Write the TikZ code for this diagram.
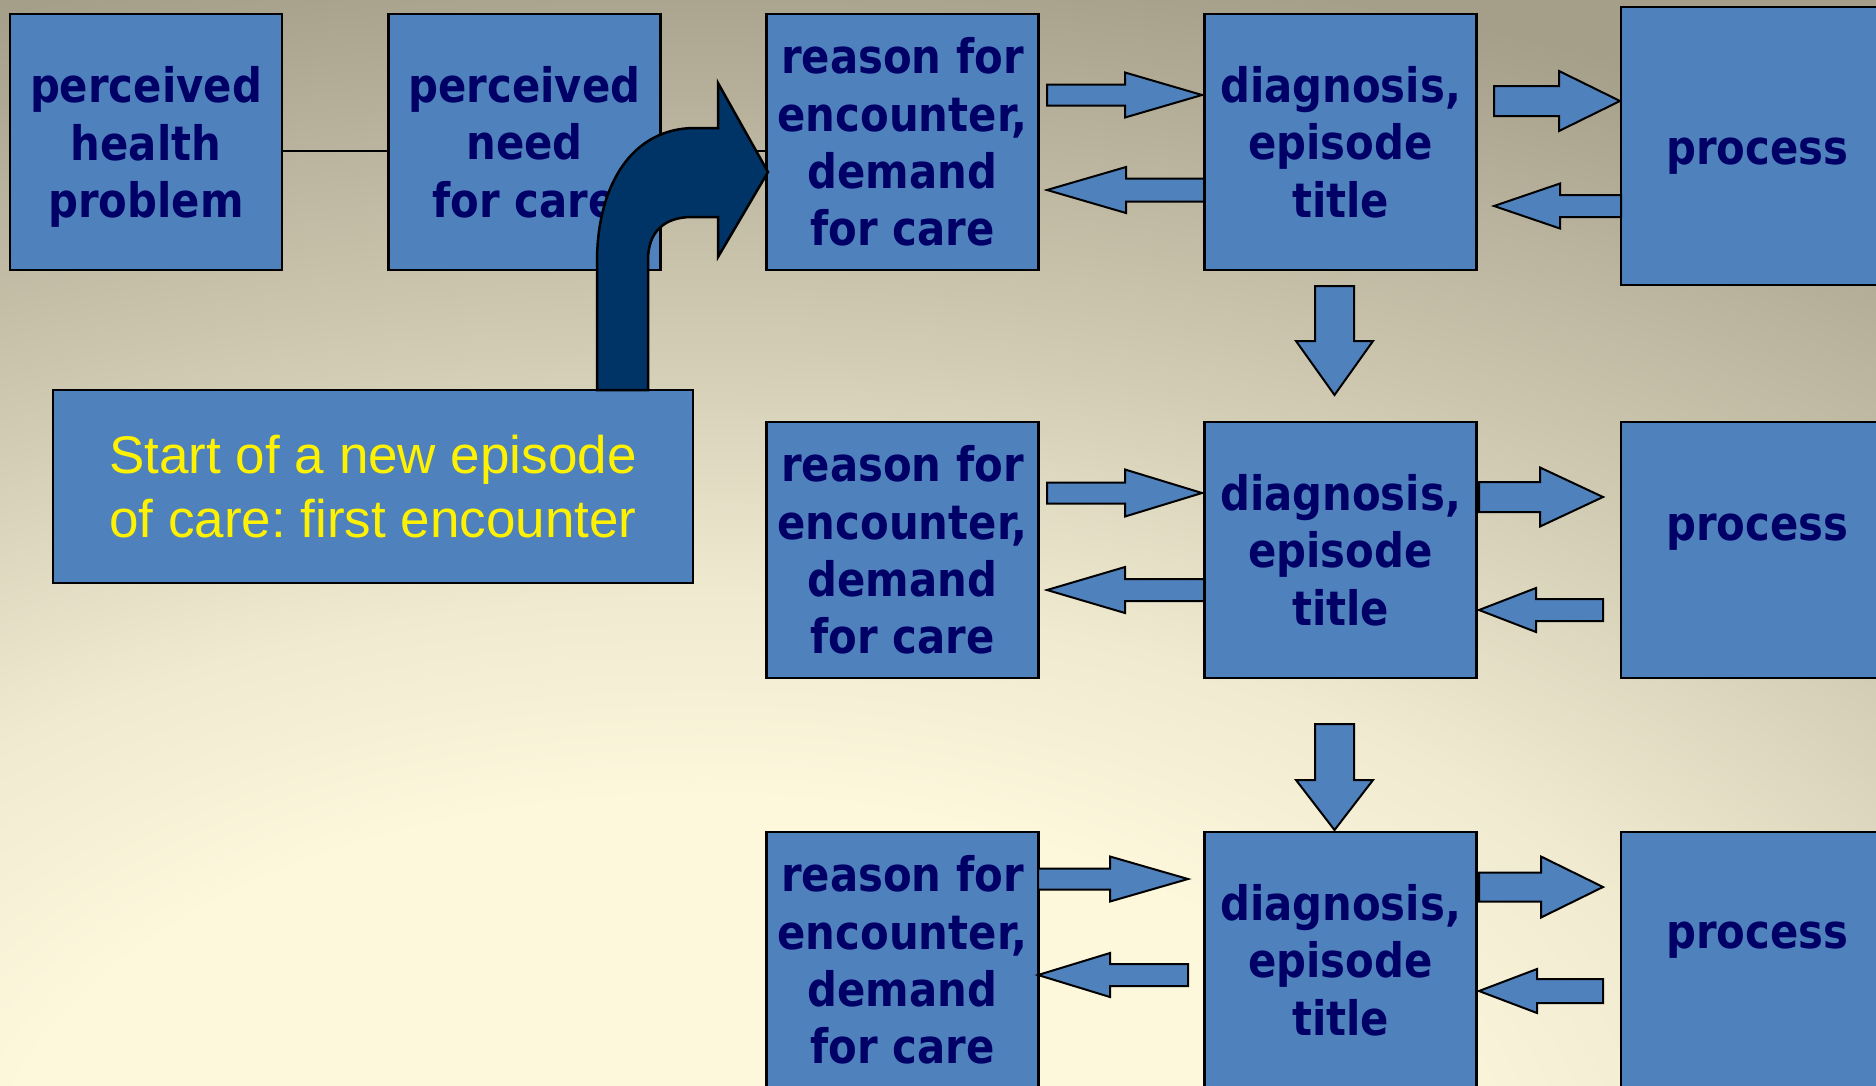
\documentclass[tikz,border=0pt]{standalone}
\usepackage{fontspec}
\usetikzlibrary{calc}
\newfontfamily\boxfont[FakeStretch=0.88]{DejaVu Sans}
\newfontfamily\startfont{Liberation Sans}
\frenchspacing
\definecolor{boxblue}{HTML}{4F81BD}
\definecolor{navytext}{HTML}{000066}
\definecolor{bentnavy}{HTML}{003366}
\definecolor{bgcream}{HTML}{FDF7DC}
\definecolor{bglight}{HTML}{EFEAD0}
\definecolor{bgmid}{HTML}{D2CCB4}
\definecolor{bgtan}{HTML}{BCB6A0}
\definecolor{bgdark}{HTML}{A59E89}
\pgfdeclareradialshading{bgglow}{\pgfpoint{0bp}{0bp}}{color(0bp)=(bgcream); color(16bp)=(bgcream); color(24bp)=(bglight); color(34bp)=(bgmid); color(42bp)=(bgtan); color(50bp)=(bgdark)}
\tikzset{
  box/.style={draw=black, line width=2.5pt, fill=boxblue, text=navytext, align=center,
    font=\boxfont\bfseries\fontsize{47.5}{57.4}\selectfont,
    minimum width=272pt, minimum height=256pt, inner sep=0pt},
  startbox/.style={draw=black, line width=2.5pt, fill=boxblue, text=yellow, align=center,
    font=\startfont\fontsize{53}{64}\selectfont,
    minimum width=640pt, minimum height=193pt, inner sep=0pt},
  fatarrow/.style n args={3}{draw=black, line width=2pt, fill=boxblue,
    to path={($(\tikztostart)!#1!90:(\tikztotarget)$)
      -- ($(\tikztotarget)!#3!(\tikztostart)!#1!-90:(\tikztostart)$)
      -- ($(\tikztotarget)!#3!(\tikztostart)!#2!-90:(\tikztostart)$)
      -- (\tikztotarget)
      -- ($(\tikztotarget)!#3!(\tikztostart)!#2!90:(\tikztostart)$)
      -- ($(\tikztotarget)!#3!(\tikztostart)!#1!90:(\tikztostart)$)
      -- ($(\tikztostart)!#1!-90:(\tikztotarget)$) -- cycle}},
}

\begin{document}
\begin{tikzpicture}[x=1pt,y=-1pt]
  \useasboundingbox (0,0) rectangle (1876,1085);
  \fill[bgdark] (0,0) rectangle (1876,1085);
  \begin{scope}
    \clip (0,0) rectangle (1876,1085);
    \begin{scope}[shift={(700,1200)},xscale=44,yscale=25]
      \pgflowlevelsynccm
      \pgfuseshading{bgglow}
    \end{scope}
  \end{scope}

  % first row
  \node[box,text depth=0pt] (hp) at (146,142) {perceived\\health\\problem};
  \node[box] (nd) at (524.5,142) {perceived\\need\\for care};
  \node[box] (rf1) at (902.5,142) {reason for\\encounter,\\demand\\for care};
  \node[box] (dg1) at (1340.5,142) {diagnosis,\\episode\\title};
  \node[box,minimum width=273pt,minimum height=278pt,text height=36pt,text depth=0pt] (pr1) at (1757.5,146) {process};
  % second row
  \node[box] (rf2) at (902.5,550) {reason for\\encounter,\\demand\\for care};
  \node[box] (dg2) at (1340.5,550) {diagnosis,\\episode\\title};
  \node[box,minimum width=273pt,text depth=46pt] (pr2) at (1757.5,550) {process};
  % third row
  \node[box] (rf3) at (902.5,960) {reason for\\encounter,\\demand\\for care};
  \node[box] (dg3) at (1340.5,960) {diagnosis,\\episode\\title};
  \node[box,minimum width=273pt,text depth=49pt] (pr3) at (1757.5,960) {process};

  \node[startbox] (st) at (373,486.5) {Start of a new episode\\of care: first encounter};

  \draw[line width=2pt] ([yshift=-9pt]hp.east) -- ([yshift=-9pt]nd.west);
  \draw[line width=2pt] ([yshift=-9pt]nd.east) -- ([yshift=-9pt]rf1.west);

  \draw[fill=bentnavy,line width=2.5pt] (597,390) -- (597,262)
    .. controls (597,185) and (632,128) .. (695,128) -- (718,128) -- (718,83)
    -- (768,172) -- (718,257) -- (718,217) -- (692,217)
    .. controls (664,217) and (648,232) .. (648,260) -- (648,390) -- cycle;

  \coordinate (rd1a) at (1047,95);
  \coordinate (rd1b) at (1202,95);
  \coordinate (dr1a) at (1204,190);
  \coordinate (dr1b) at (1047,190);
  \coordinate (dp1a) at (1494,101);
  \coordinate (dp1b) at (1620,101);
  \coordinate (pd1a) at (1621,206);
  \coordinate (pd1b) at (1494,206);
  \coordinate (dn1a) at (1334.5,286);
  \coordinate (dn1b) at (1334.5,395);
  \coordinate (rd2a) at (1047,493);
  \coordinate (rd2b) at (1202,493);
  \coordinate (dr2a) at (1204,590);
  \coordinate (dr2b) at (1047,590);
  \coordinate (dp2a) at (1479,497);
  \coordinate (dp2b) at (1603,497);
  \coordinate (pd2a) at (1603,610);
  \coordinate (pd2b) at (1479,610);
  \coordinate (dn2a) at (1334.5,724);
  \coordinate (dn2b) at (1334.5,830);
  \coordinate (rd3a) at (1038,879);
  \coordinate (rd3b) at (1188,879);
  \coordinate (dr3a) at (1188,975);
  \coordinate (dr3b) at (1038,975);
  \coordinate (dp3a) at (1479,887);
  \coordinate (dp3b) at (1603,887);
  \coordinate (pd3a) at (1603,991);
  \coordinate (pd3b) at (1479,991);

  \draw[fatarrow={10.5pt}{22.5pt}{77pt}] (rd1a) to (rd1b);
  \draw[fatarrow={11.5pt}{23pt}{79pt}] (dr1a) to (dr1b);
  \draw[fatarrow={15pt}{30pt}{61pt}] (dp1a) to (dp1b);
  \draw[fatarrow={11pt}{22.5pt}{66pt}] (pd1a) to (pd1b);
  \draw[fatarrow={19.5pt}{38.5pt}{54pt}] (dn1a) to (dn1b);
  \draw[fatarrow={10.5pt}{23.5pt}{77pt}] (rd2a) to (rd2b);
  \draw[fatarrow={11pt}{23pt}{78pt}] (dr2a) to (dr2b);
  \draw[fatarrow={15pt}{29.5pt}{63pt}] (dp2a) to (dp2b);
  \draw[fatarrow={11pt}{22pt}{57pt}] (pd2a) to (pd2b);
  \draw[fatarrow={19.5pt}{38.5pt}{50pt}] (dn2a) to (dn2b);
  \draw[fatarrow={10.5pt}{22.5pt}{78pt}] (rd3a) to (rd3b);
  \draw[fatarrow={11pt}{22pt}{72pt}] (dr3a) to (dr3b);
  \draw[fatarrow={14.5pt}{30.5pt}{62pt}] (dp3a) to (dp3b);
  \draw[fatarrow={12pt}{22pt}{58pt}] (pd3a) to (pd3b);
\end{tikzpicture}
\end{document}
